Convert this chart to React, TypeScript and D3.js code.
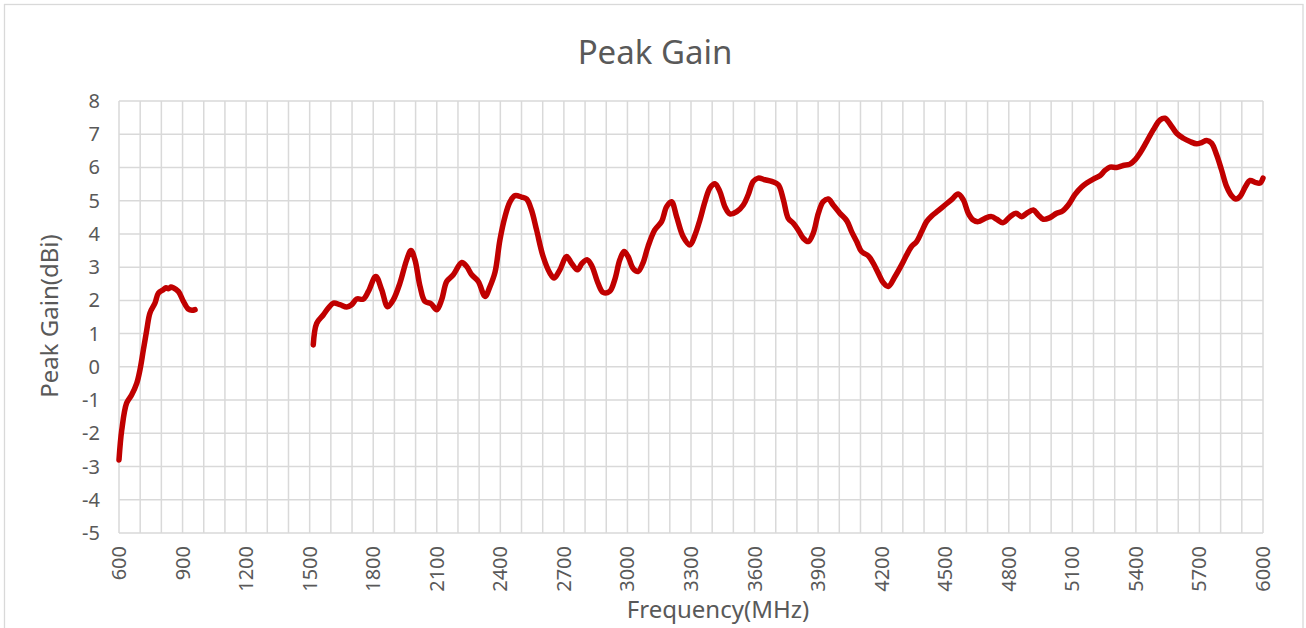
import React from "react";
import * as d3 from "d3";

// 600-960 MHz band
const lowFreq = [600, 613, 636, 660, 684, 699, 715, 731, 746, 770, 786, 809, 822, 833, 845, 856, 880, 904, 927, 945, 959];
const lowGain = [-2.8, -1.9, -1.09, -0.84, -0.49, -0.09, 0.51, 1.11, 1.62, 1.92, 2.22, 2.32, 2.38, 2.35, 2.4, 2.38, 2.27, 1.97, 1.74, 1.7, 1.72];

// 1517-6000 MHz band
const highFreq = [
  1517, 1533, 1564, 1588, 1612, 1643, 1675, 1698, 1722, 1753,
  1777, 1812, 1840, 1868, 1895, 1926, 1958, 1978, 1997, 2021,
  2044, 2073, 2100, 2123, 2147, 2178, 2218, 2241, 2265, 2296,
  2328, 2350, 2375, 2398, 2422, 2446, 2469, 2500, 2524, 2547,
  2571, 2602, 2634, 2654, 2681, 2713, 2736, 2764, 2786, 2811,
  2833, 2861, 2885, 2916, 2940, 2964, 2984, 3003, 3026, 3050,
  3073, 3097, 3129, 3161, 3185, 3208, 3232, 3263, 3295, 3319,
  3342, 3366, 3389, 3413, 3436, 3460, 3484, 3516, 3547, 3570,
  3594, 3617, 3649, 3681, 3712, 3736, 3759, 3783, 3806, 3830,
  3854, 3877, 3901, 3924, 3948, 3971, 4003, 4035, 4058, 4082,
  4105, 4137, 4160, 4184, 4207, 4231, 4263, 4294, 4318, 4341,
  4365, 4389, 4412, 4436, 4467, 4499, 4530, 4561, 4585, 4609,
  4632, 4656, 4688, 4719, 4743, 4774, 4806, 4834, 4861, 4884,
  4916, 4939, 4963, 4994, 5026, 5054, 5081, 5112, 5144, 5168,
  5199, 5230, 5254, 5278, 5309, 5340, 5372, 5396, 5419, 5451,
  5482, 5514, 5537, 5561, 5592, 5624, 5655, 5687, 5710, 5734,
  5757, 5781, 5804, 5828, 5852, 5872, 5892, 5916, 5939, 5963,
  5986, 6000,
];
const highGain = [
  0.66, 1.31, 1.56, 1.77, 1.92, 1.87, 1.8, 1.87, 2.04, 2.04,
  2.27, 2.72, 2.32, 1.81, 2.02, 2.52, 3.22, 3.5, 3.22, 2.42,
  1.97, 1.9, 1.72, 2.02, 2.57, 2.77, 3.14, 3.02, 2.77, 2.57,
  2.12, 2.4, 2.85, 3.82, 4.52, 4.97, 5.15, 5.11, 5.05, 4.72,
  4.12, 3.32, 2.82, 2.67, 2.92, 3.32, 3.12, 2.92, 3.12, 3.22,
  3.02, 2.52, 2.24, 2.27, 2.62, 3.22, 3.47, 3.32, 2.97, 2.87,
  3.12, 3.62, 4.12, 4.37, 4.82, 4.97, 4.52, 3.92, 3.67, 3.97,
  4.42, 4.97, 5.38, 5.51, 5.28, 4.82, 4.6, 4.67, 4.87, 5.18,
  5.58, 5.68, 5.63, 5.58, 5.48, 5.03, 4.47, 4.32, 4.12, 3.87,
  3.77, 4.02, 4.62, 4.97, 5.05, 4.87, 4.62, 4.4, 4.07, 3.77,
  3.47, 3.34, 3.12, 2.82, 2.54, 2.42, 2.72, 3.07, 3.37, 3.62,
  3.77, 4.07, 4.37, 4.54, 4.7, 4.87, 5.03, 5.2, 5.03, 4.62,
  4.42, 4.37, 4.47, 4.52, 4.44, 4.34, 4.52, 4.62, 4.52, 4.62,
  4.72, 4.57, 4.44, 4.49, 4.62, 4.69, 4.87, 5.18, 5.41, 5.53,
  5.65, 5.75, 5.91, 6.01, 6.0, 6.06, 6.1, 6.23, 6.43, 6.78,
  7.13, 7.43, 7.48, 7.31, 7.03, 6.88, 6.78, 6.71, 6.75, 6.81,
  6.73, 6.38, 5.93, 5.43, 5.15, 5.05, 5.13, 5.41, 5.61, 5.55,
  5.53, 5.68,
];

const xGrid = d3.range(600, 6001, 100);
const xLabels = d3.range(600, 6001, 300);
const yTicks = d3.range(-5, 9, 1);

const W = 1306;
const H = 628;
const font = "'Noto Sans', 'DejaVu Sans', sans-serif";
const textColor = "#595959";
const gridColor = "#d9d9d9";

export default function App() {
  const x = d3.scaleLinear().domain([600, 6000]).range([119, 1263]);
  const y = d3.scaleLinear().domain([-5, 8]).range([533, 101]);

  const line = d3
    .line<[number, number]>()
    .x((d) => x(d[0]))
    .y((d) => y(d[1]))
    .curve(d3.curveCatmullRom.alpha(0.5));

  const low = lowFreq.map((f, i) => [f, lowGain[i]] as [number, number]);
  const high = highFreq.map((f, i) => [f, highGain[i]] as [number, number]);

  return (
    <svg
      width={W}
      height={H}
      style={{ position: "absolute", left: 0, top: 0, background: "#fff" }}
      fontFamily={font}
    >
      <rect x={4.5} y={4.5} width={1298.5} height={640} fill="#fff" stroke={gridColor} strokeWidth={1.3} />

      <text x={655} y={64} textAnchor="middle" fontSize={33} fill={textColor}>
        Peak Gain
      </text>

      {xGrid.map((v) => (
        <line key={"gx" + v} x1={x(v)} x2={x(v)} y1={y(8)} y2={y(-5)} stroke={gridColor} strokeWidth={1.5} />
      ))}
      {yTicks.map((v) => (
        <line key={"gy" + v} x1={x(600)} x2={x(6000)} y1={y(v)} y2={y(v)} stroke={gridColor} strokeWidth={1.5} />
      ))}

      {yTicks.map((v) => (
        <text key={"ty" + v} x={100} y={y(v)} dy="0.35em" textAnchor="end" fontSize={20} fill={textColor}>
          {v}
        </text>
      ))}
      {xLabels.map((v) => (
        <text
          key={"tx" + v}
          transform={`translate(${x(v)},546) rotate(-90)`}
          dy="0.35em"
          textAnchor="end"
          fontSize={20}
          fill={textColor}
        >
          {v}
        </text>
      ))}

      <text transform="translate(50,316) rotate(-90)" dy="0.35em" textAnchor="middle" fontSize={24} fill={textColor}>
        Peak Gain(dBi)
      </text>
      <text x={718} y={618} textAnchor="middle" fontSize={24} fill={textColor}>
        Frequency(MHz)
      </text>

      <path d={line(low) ?? ""} fill="none" stroke="#c00000" strokeWidth={5.5} strokeLinecap="round" strokeLinejoin="round" />
      <path d={line(high) ?? ""} fill="none" stroke="#c00000" strokeWidth={5.5} strokeLinecap="round" strokeLinejoin="round" />
    </svg>
  );
}
